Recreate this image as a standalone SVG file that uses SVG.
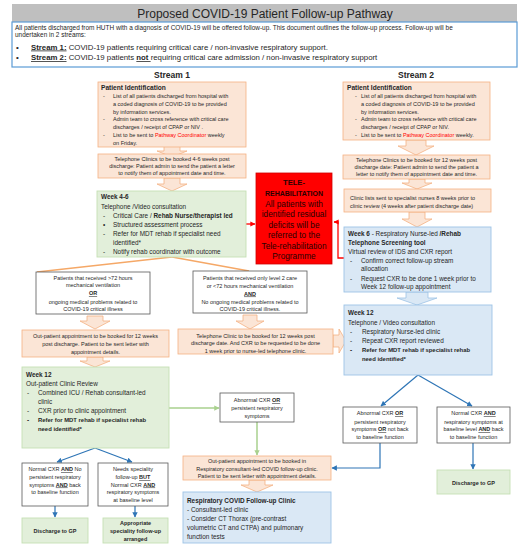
<svg xmlns="http://www.w3.org/2000/svg" width="529" height="550" viewBox="0 0 529 550">
<style>
text{font-family:"Liberation Sans",Arial,sans-serif;fill:#262626}
.s{font-size:5.5px}
.m{font-size:6.4px}
.c{text-anchor:middle}
.b{font-weight:bold}
.u{text-decoration:underline}
.red{fill:#ff0000}
.or{fill:#fbe5d6;stroke:#f4b183;stroke-width:0.8}
.gr{fill:#e2efda;stroke:#c5e0b4;stroke-width:0.9}
.bl{fill:#dae8f5;stroke:#9dc3e6;stroke-width:0.9}
.wh{fill:#ffffff;stroke:#595959;stroke-width:0.8}
.ba{fill:#fbe5d6;stroke:#f4b183;stroke-width:0.8}
.bb{fill:#dae8f5;stroke:#9dc3e6;stroke-width:0.8}
.lo{fill:none;stroke:#f5a867;stroke-width:1.3}
.lr{fill:none;stroke:#ff0000;stroke-width:1.3;marker-end:url(#ar)}
.lg{fill:none;stroke:#a9d18e;stroke-width:1.5;marker-end:url(#ag)}
.lb{fill:none;stroke:#2e75b6;stroke-width:1.2;marker-end:url(#ab)}
.tr{fill:#2a0000;font-size:8.3px}
</style>
<defs>
<marker id="ar" viewBox="0 0 10 10" refX="9" refY="5" markerWidth="4" markerHeight="4" orient="auto"><path d="M0,0 L10,5 L0,10 Z" fill="#ff0000"/></marker>
<marker id="ag" viewBox="0 0 10 10" refX="9" refY="5" markerWidth="3.5" markerHeight="3.5" orient="auto"><path d="M0,0 L10,5 L0,10 Z" fill="#a9d18e"/></marker>
<marker id="ab" viewBox="0 0 10 10" refX="9" refY="5" markerWidth="4.5" markerHeight="4.5" orient="auto"><path d="M0,0 L10,5 L0,10 Z" fill="#2e75b6"/></marker>
</defs>
<rect width="529" height="550" fill="#ffffff"/>

<g id="header">
<rect x="12" y="4" width="505" height="18" fill="#bfbfbf"/>
<text x="265" y="17.5" class="c" style="font-size:12px">Proposed COVID-19 Patient Follow-up Pathway</text>
<rect x="12" y="22" width="505" height="45" fill="#ffffff" stroke="#5b9bd5" stroke-width="1.2"/>
<text x="15" y="30" style="font-size:6.45px">All patients discharged from HUTH with a diagnosis of COVID-19 will be offered follow-up. This document outlines the follow-up process. Follow-up will be</text>
<text x="15" y="37" style="font-size:6.45px">undertaken in 2 streams:</text>
<text x="16" y="49.5" style="font-size:8px">•</text>
<text x="31" y="49.5" style="font-size:7.8px"><tspan class="b u">Stream 1:</tspan> COVID-19 patients requiring critical care  / non-invasive respiratory support.</text>
<text x="16" y="60" style="font-size:8px">•</text>
<text x="31" y="60" style="font-size:7.8px"><tspan class="b u">Stream 2:</tspan> COVID-19  patients <tspan class="b u">not </tspan>requiring critical care admission / non-invasive respiratory support</text>
<text x="172" y="77.5" class="c b" style="font-size:8.5px">Stream 1</text>
<text x="416" y="77.5" class="c b" style="font-size:8.5px">Stream 2</text>
</g>

<g id="connectors">
<path class="lo" d="M172,257 L37,272"/>
<path class="lo" d="M172,257 L249,271"/>
<path class="lr" d="M246,224 H255"/>
<path class="lr" d="M344,258 H338 V222 H334"/>
<path class="lg" d="M169,408 H219"/>
<path class="lg" d="M257,422 V455"/>
<path class="lb" d="M95,448 L57,462"/>
<path class="lb" d="M95,448 L132,462"/>
<path class="lb" d="M55,506 V517"/>
<path class="lb" d="M135,506 V517"/>
<path class="lb" d="M418,375 L381,406"/>
<path class="lb" d="M418,375 L472,406"/>
<path class="lb" d="M473,443 V469"/>
<path class="lb" d="M380,443 V468 H332"/>
<path class="ba" d="M164,146 H180 V151 H187 L172,157 L157,151 H164 Z"/>
<path class="ba" d="M164,178 H180 V184 H187 L172,191 L157,184 H164 Z"/>
<path class="ba" d="M406,140 H426 V146 H434 L416,155 L398,146 H406 Z"/>
<path class="ba" d="M409,179 H425 V183 H432 L417,189 L402,183 H409 Z"/>
<path class="ba" d="M409,212 H425 V219 H432 L417,227 L402,219 H409 Z"/>
<path class="bb" d="M406,292 H428 V298 H437 L417,305 L397,298 H406 Z"/>
<path class="ba" d="M87,316 H103 V321 H110 L95,329 L80,321 H87 Z"/>
<path class="ba" d="M243,315 H257 V321 H264 L250,329 L236,321 H243 Z"/>
<path class="ba" d="M87,357 H103 V361 H110 L95,367 L80,361 H87 Z"/>
<path class="ba" d="M249,480 H265 V485 H273 L257,492 L241,485 H249 Z"/>
<path class="ba" d="M333,335 H339 V329 L346,341 L339,353 V347 H333 Z"/>
</g>

<g id="s1-patient-id">
<rect class="or" x="98" y="82" width="148" height="65"/>
<text x="101" y="90" class="b" style="font-size:6.6px">Patient Identification</text>
<text class="s" x="103" y="98">-</text><text class="s" x="113" y="98">List of all patients discharged from hospital with</text>
<text class="s" x="113" y="105.8">a coded diagnosis of COVID-19 to be provided</text>
<text class="s" x="113" y="113.6">by information services.</text>
<text class="s" x="103" y="121.4">-</text><text class="s" x="113" y="121.4">Admin team to cross reference with critical care</text>
<text class="s" x="113" y="129.2">discharges / receipt of CPAP or NIV .</text>
<text class="s" x="103" y="137">-</text><text class="s" x="113" y="137">List to be sent to <tspan class="red">Pathway Coordinator</tspan> weekly</text>
<text class="s" x="113" y="144.8">on Friday.</text>
</g>

<g id="s1-telephone-clinic">
<rect class="or" x="98" y="154" width="148" height="24"/>
<text class="s c" x="172" y="161">Telephone Clinics to be booked 4-6 weeks post</text>
<text class="s c" x="172" y="168">discharge: Patient admin to send the patient a letter</text>
<text class="s c" x="172" y="175">to notify them of appointment date and time.</text>
</g>

<g id="s1-week4-6">
<rect class="gr" x="97" y="191" width="149" height="66"/>
<text class="m b" x="101" y="199">Week 4-6</text>
<text class="m" x="101" y="209">Telephone /Video consultation</text>
<text class="m" x="103" y="218">-</text><text class="m" x="113" y="218">Critical Care / <tspan class="b">Rehab Nurse/therapist led</tspan></text>
<text class="m" x="103" y="227">•</text><text class="m" x="113" y="227">Structured assessment process</text>
<text class="m" x="103" y="236">-</text><text class="m" x="113" y="236">Refer for MDT rehab if specialist need</text>
<text class="m" x="113" y="244.5">identified*</text>
<text class="m" x="103" y="254">-</text><text class="m" x="113" y="254">Notify rehab coordinator with outcome</text>
</g>

<g id="tele-rehabilitation">
<rect x="256" y="173" width="76" height="91" fill="#ff0000" stroke="#d00000" stroke-width="0.8"/>
<text class="tr c b" x="294" y="185" style="font-size:7.6px">TELE-</text>
<text class="tr c b" x="294" y="195.5" style="font-size:7px">REHABILITATION</text>
<text class="tr c" x="294" y="206.5">All patients with</text>
<text class="tr c" x="294" y="217">identified residual</text>
<text class="tr c" x="294" y="227.5">deficits will be</text>
<text class="tr c" x="294" y="238">referred to the</text>
<text class="tr c" x="294" y="248.5">Tele-rehabilitation</text>
<text class="tr c" x="294" y="259">Programme</text>
</g>

<g id="s2-patient-id">
<rect class="or" x="343" y="82" width="147" height="58"/>
<text x="347" y="90" class="b" style="font-size:6.6px">Patient Identification</text>
<text class="s" x="355" y="98">-</text><text class="s" x="361" y="98">List of all patients discharged from hospital with</text>
<text class="s" x="361" y="105.8">a coded diagnosis of COVID-19 to be provided</text>
<text class="s" x="361" y="113.6">by information services.</text>
<text class="s" x="355" y="121.4">-</text><text class="s" x="361" y="121.4">Admin team to cross reference with critical care</text>
<text class="s" x="361" y="129.2">discharges / receipt of CPAP or NIV.</text>
<text class="s" x="355" y="137">-</text><text class="s" x="361" y="137">List to be sent to <tspan class="red">Pathway Coordinator</tspan> weekly.</text>
</g>

<g id="s2-telephone-clinic">
<rect class="or" x="343" y="155" width="147" height="24"/>
<text class="s c" x="416.5" y="161.5">Telephone Clinics to be booked for 12 weeks post</text>
<text class="s c" x="416.5" y="168.5">discharge date: Patient admin to send the patient a</text>
<text class="s c" x="416.5" y="176">letter to notify them of appointment date and time.</text>
</g>

<g id="s2-clinic-lists">
<rect class="or" x="344" y="189" width="147" height="23"/>
<text class="s" x="350" y="199.5">Clinic lists sent to specialist nurses 8 weeks prior to</text>
<text class="s" x="350" y="207.5">clinic review (4 weeks after patient discharge date)</text>
</g>

<g id="s2-week6">
<rect class="bl" x="344" y="227" width="147" height="65"/>
<text class="m" x="348" y="235.5"><tspan class="b">Week 6</tspan> - Respiratory Nurse-led <tspan class="b"> /Rehab</tspan></text>
<text class="m b" x="348" y="244.5">Telephone Screening tool</text>
<text class="m" x="348" y="253.5">Virtual review of IDS and CXR report</text>
<text class="m" x="350" y="262.5">-</text><text class="m" x="361" y="262.5">Confirm correct follow-up stream</text>
<text class="m" x="361" y="271">allocation</text>
<text class="m" x="350" y="280.5">-</text><text class="m" x="361" y="280.5">Request CXR to be done 1 week prior to</text>
<text class="m" x="361" y="289">Week 12 follow-up appointment</text>
</g>

<g id="s2-week12">
<rect class="bl" x="344" y="305" width="148" height="70"/>
<text class="m b" x="348" y="315">Week 12</text>
<text class="m" x="348" y="325">Telephone / Video consultation</text>
<text class="m" x="350" y="334">-</text><text class="m" x="362" y="334">Respiratory Nurse-led clinic</text>
<text class="m" x="350" y="343">-</text><text class="m" x="362" y="343">Repeat CXR report reviewed</text>
<text class="m b" x="350" y="352">-</text><text class="m b" x="362" y="352" style="font-size:5.9px">Refer for MDT rehab if specialist rehab</text>
<text class="m b" x="362" y="361" style="font-size:5.9px">need identified*</text>
</g>

<g id="s1-critical">
<rect class="wh" x="36" y="272" width="114" height="42"/>
<text class="s c" x="93" y="279.5">Patients that received &gt;72 hours</text>
<text class="s c" x="93" y="287">mechanical ventilation</text>
<text class="s c b u" x="93" y="295">OR</text>
<text class="s c" x="93" y="303.5">ongoing medical problems related to</text>
<text class="s c" x="93" y="311">COVID-19 critical illness</text>
</g>

<g id="s1-non-critical">
<rect class="wh" x="193" y="271" width="114" height="42"/>
<text class="s c" x="250" y="280">Patients that received only level 2 care</text>
<text class="s c" x="250" y="287.5">or &lt;72 hours mechanical ventilation</text>
<text class="s c b u" x="250" y="295.5">AND</text>
<text class="s c" x="250" y="303.5">No ongoing medical problems related to</text>
<text class="s c" x="250" y="311">COVID-19 critical illness.</text>
</g>

<g id="s1-outpatient-appt">
<rect class="or" x="22" y="330" width="147" height="27"/>
<text class="s c" x="95.5" y="338">Out-patient appointment to be booked for 12 weeks</text>
<text class="s c" x="95.5" y="346">post discharge. Patient to be sent letter with</text>
<text class="s c" x="95.5" y="354">appointment details.</text>
</g>

<g id="s1-telephone-clinic-12">
<rect class="or" x="178" y="329" width="155" height="25"/>
<text class="s c" x="255.5" y="337.5">Telephone Clinic to be booked for 12 weeks post</text>
<text class="s c" x="255.5" y="345">discharge date. And CXR to be requested to be done</text>
<text class="s c" x="255.5" y="352.5">1 week prior to nurse-led telephone clinic.</text>
</g>

<g id="s1-week12">
<rect class="gr" x="22" y="367" width="147" height="81"/>
<text class="m b" x="26" y="376.5">Week 12</text>
<text class="m" x="26" y="385.5">Out-patient Clinic Review</text>
<text class="m" x="27" y="395">-</text><text class="m" x="38" y="395">Combined ICU / Rehab consultant-led</text>
<text class="m" x="38" y="404">clinic</text>
<text class="m" x="27" y="413">-</text><text class="m" x="38" y="413">CXR prior to clinic appointment</text>
<text class="m b" x="27" y="422">-</text><text class="m b" x="38" y="422" style="font-size:5.9px">Refer for MDT rehab if specialist rehab</text>
<text class="m b" x="38" y="431" style="font-size:5.9px">need identified*</text>
</g>

<g id="s1-abnormal-cxr">
<rect class="wh" x="220" y="393" width="74" height="29"/>
<text class="s c" x="257" y="402">Abnormal CXR <tspan class="b u">OR</tspan></text>
<text class="s c" x="257" y="410">persistent respiratory</text>
<text class="s c" x="257" y="417.5">symptoms</text>
</g>

<g id="consultant-appt">
<rect class="or" x="183" y="456" width="148" height="24"/>
<text class="s c" x="257" y="462.5">Out-patient appointment to be booked in</text>
<text class="s c" x="257" y="470.5">Respiratory consultant-led COVID follow-up clinic.</text>
<text class="s c" x="257" y="478">Patient to be sent letter with appointment details.</text>
</g>

<g id="respiratory-clinic">
<rect class="bl" x="183" y="492" width="148" height="51"/>
<text class="m b" x="187" y="502.5">Respiratory COVID Follow-up Clinic</text>
<text class="m" x="187" y="511.5">- Consultant-led  clinic</text>
<text class="m" x="187" y="520.5">- Consider  CT Thorax (pre-contrast</text>
<text class="m" x="187" y="529.5">volumetric  CT and CTPA) and pulmonary</text>
<text class="m" x="187" y="539">function tests</text>
</g>

<g id="s1-normal">
<rect class="wh" x="22" y="463" width="66" height="43"/>
<text class="s c" x="55" y="471">Normal CXR <tspan class="b u">AND</tspan> No</text>
<text class="s c" x="55" y="479">persistent respiratory</text>
<text class="s c" x="55" y="486.5">symptoms <tspan class="b u">AND</tspan> back</text>
<text class="s c" x="55" y="494">to baseline function</text>
</g>

<g id="s1-speciality">
<rect class="wh" x="98" y="463" width="70" height="43"/>
<text class="s c" x="133" y="471">Needs speciality</text>
<text class="s c" x="133" y="479">follow-up <tspan class="b u">BUT</tspan></text>
<text class="s c" x="133" y="486.5">Normal CXR <tspan class="b u">AND</tspan></text>
<text class="s c" x="133" y="494">respiratory symptoms</text>
<text class="s c" x="133" y="502">at baseline level</text>
</g>

<g id="s1-discharge-gp">
<rect class="gr" x="22" y="518" width="66" height="25"/>
<text class="s c b" x="55" y="533">Discharge to GP</text>
</g>

<g id="s1-speciality-follow-up">
<rect class="gr" x="103" y="518" width="65" height="25"/>
<text class="s c b" x="135.5" y="525">Appropriate</text>
<text class="s c b" x="135.5" y="533">speciality follow-up</text>
<text class="s c b" x="135.5" y="540.5">arranged</text>
</g>

<g id="s2-abnormal-cxr">
<rect class="wh" x="343" y="407" width="74" height="36"/>
<text class="s c" x="380" y="415">Abnormal CXR <tspan class="b u">OR</tspan></text>
<text class="s c" x="380" y="423.5">persistent respiratory</text>
<text class="s c" x="380" y="431">symptoms <tspan class="b u">OR</tspan> not back</text>
<text class="s c" x="380" y="439">to baseline function</text>
</g>

<g id="s2-normal">
<rect class="wh" x="437" y="407" width="73" height="36"/>
<text class="s c" x="473.5" y="415">Normal CXR <tspan class="b u">AND</tspan></text>
<text class="s c" x="473.5" y="423.5">respiratory symptoms at</text>
<text class="s c" x="473.5" y="431">baseline level <tspan class="b u">AND</tspan> back</text>
<text class="s c" x="473.5" y="439">to baseline function</text>
</g>

<g id="s2-discharge-gp">
<rect class="gr" x="437" y="470" width="73" height="24"/>
<text class="s c b" x="473.5" y="484.5">Discharge to GP</text>
</g>
</svg>
